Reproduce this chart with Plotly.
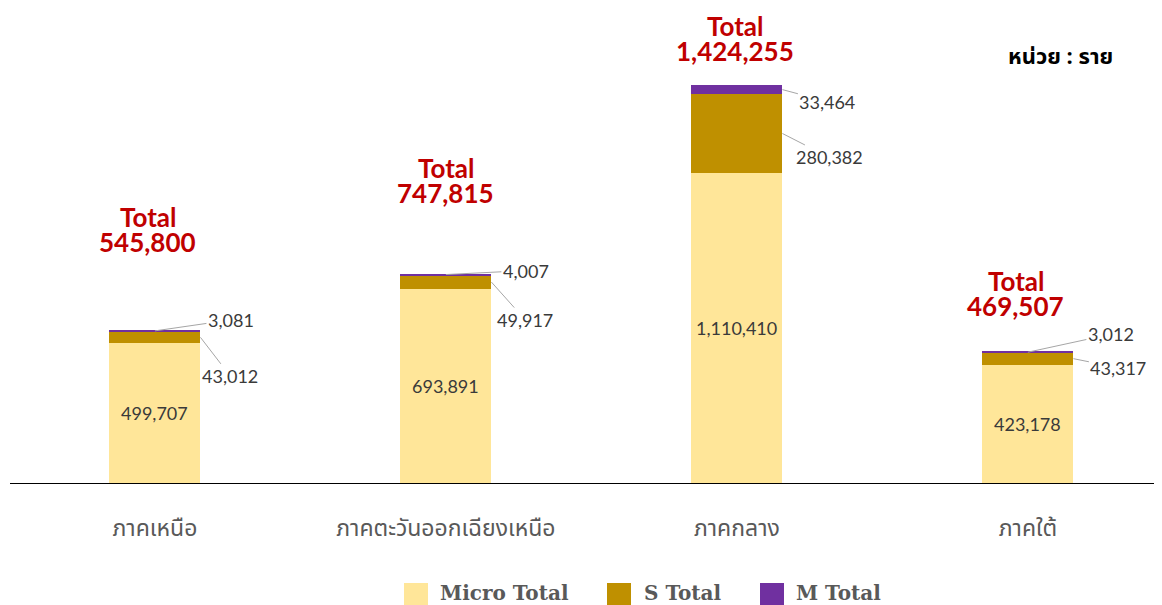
import plotly.graph_objects as go

categories = ["ภาคเหนือ", "ภาคตะวันออกเฉียงเหนือ", "ภาคกลาง", "ภาคใต้"]
micro_total = [499707, 693891, 1110410, 423178]
s_total = [43012, 49917, 280382, 43317]
m_total = [3081, 4007, 33464, 3012]
totals = [545800, 747815, 1424255, 469507]
series_names = ["Micro Total", "S Total", "M Total"]
unit_text = "หน่วย : ราย"

colors = ["#FFE699", "#BF9000", "#7030A0"]
BW = 0.313
num_font = dict(family="Lato, Open Sans, sans-serif", size=18, color="#3A3A3A")
lead = "#A6A6A6"

# page has an 8px body margin; figure is sized so the plot lands where the reference has it
OFF = 8
W, H = 1162 - OFF, 605 - OFF
ML, MT, MB = 10 - OFF, 10 - OFF, 605 - 483
PW = W - ML
PH = H - MT - MB


def px(xp):  # reference page x -> paper
    return (xp - OFF - ML) / PW


def py(yp):  # reference page y -> paper
    return (H - MB - (yp - OFF)) / PH


fig = go.Figure()
for name, vals, col in zip(series_names, [micro_total, s_total, m_total], colors):
    fig.add_trace(go.Bar(x=categories, y=vals, name=name, marker=dict(color=col, line=dict(width=0)),
                         width=BW, showlegend=False))

# micro labels inside
for i, v in enumerate(micro_total):
    fig.add_annotation(x=i, y=v / 2, text=f"{v:,}", showarrow=False, font=num_font)

# S labels with leader lines (pixel offsets)
s_off = [(30, 39), (34, 38), (47, 24), (45, 9)]
for i, v in enumerate(s_total):
    ax, ay = s_off[i]
    fig.add_annotation(x=i + BW / 2, y=micro_total[i] + v / 2, text=f"{v:,}", showarrow=True,
                       arrowhead=0, arrowwidth=1, arrowcolor=lead, ax=ax, ay=ay, font=num_font)

# M labels with leader lines
m_off = [(0, 76, -11), (0, 80, -4), (BW / 2, 45, 12), (0, 83, -18)]
for i, v in enumerate(m_total):
    dx, ax, ay = m_off[i]
    fig.add_annotation(x=i + dx, y=micro_total[i] + s_total[i] + v / 2, text=f"{v:,}", showarrow=True,
                       arrowhead=0, arrowwidth=1, arrowcolor=lead, ax=ax, ay=ay, font=num_font)

# totals
tot_font = dict(family="Lato, Open Sans, sans-serif", size=26, color="#C00000")
tot_shift = [(-7, 101), (0, 94), (-2, 46), (-12, 58)]
for i, t in enumerate(totals):
    xs, ys = tot_shift[i]
    fig.add_annotation(x=i, y=t, text="<b>Total</b>", showarrow=False, font=tot_font,
                       xshift=xs, yshift=ys + 12.5)
    fig.add_annotation(x=i, y=t, text=f"<b>{t:,}</b>", showarrow=False, font=tot_font,
                       xshift=xs, yshift=ys - 12.5)

# unit
fig.add_annotation(xref="paper", yref="paper", x=px(1060), y=py(57), xanchor="center", yanchor="middle",
                   text=f"<b>{unit_text}</b>", showarrow=False,
                   font=dict(family="Noto Sans Thai, Tahoma, sans-serif", size=22, color="#000000"))

# legend (drawn manually for large swatches)
leg_font = dict(family="DejaVu Serif, serif", size=20, color="#595959")
leg_items = [(404, 440), (607, 644), (760, 796)]
for (sx, tx), name, col in zip(leg_items, series_names, colors):
    fig.add_shape(type="rect", xref="paper", yref="paper",
                  x0=px(sx), x1=px(sx + 24), y0=py(583), y1=py(606),
                  fillcolor=col, line=dict(width=0))
    fig.add_annotation(xref="paper", yref="paper", x=px(tx - 1), y=py(593),
                       xanchor="left", yanchor="middle", text=f"<b>{name}</b>", showarrow=False,
                       font=leg_font, borderpad=0)

fig.update_layout(
    width=W, height=H,
    margin=dict(l=ML, r=0, t=MT, b=MB),
    barmode="stack",
    plot_bgcolor="white", paper_bgcolor="white",
    xaxis=dict(range=[-0.498, 3.461], showline=True, linecolor="#000000", linewidth=1,
               ticks="", ticklabelstandoff=24,
               tickfont=dict(family="Noto Sans Thai, Tahoma, sans-serif", size=23, color="#595959")),
    yaxis=dict(range=[0, PH * 3578], visible=False, showgrid=False),
)

fig.write_html("out.html")
